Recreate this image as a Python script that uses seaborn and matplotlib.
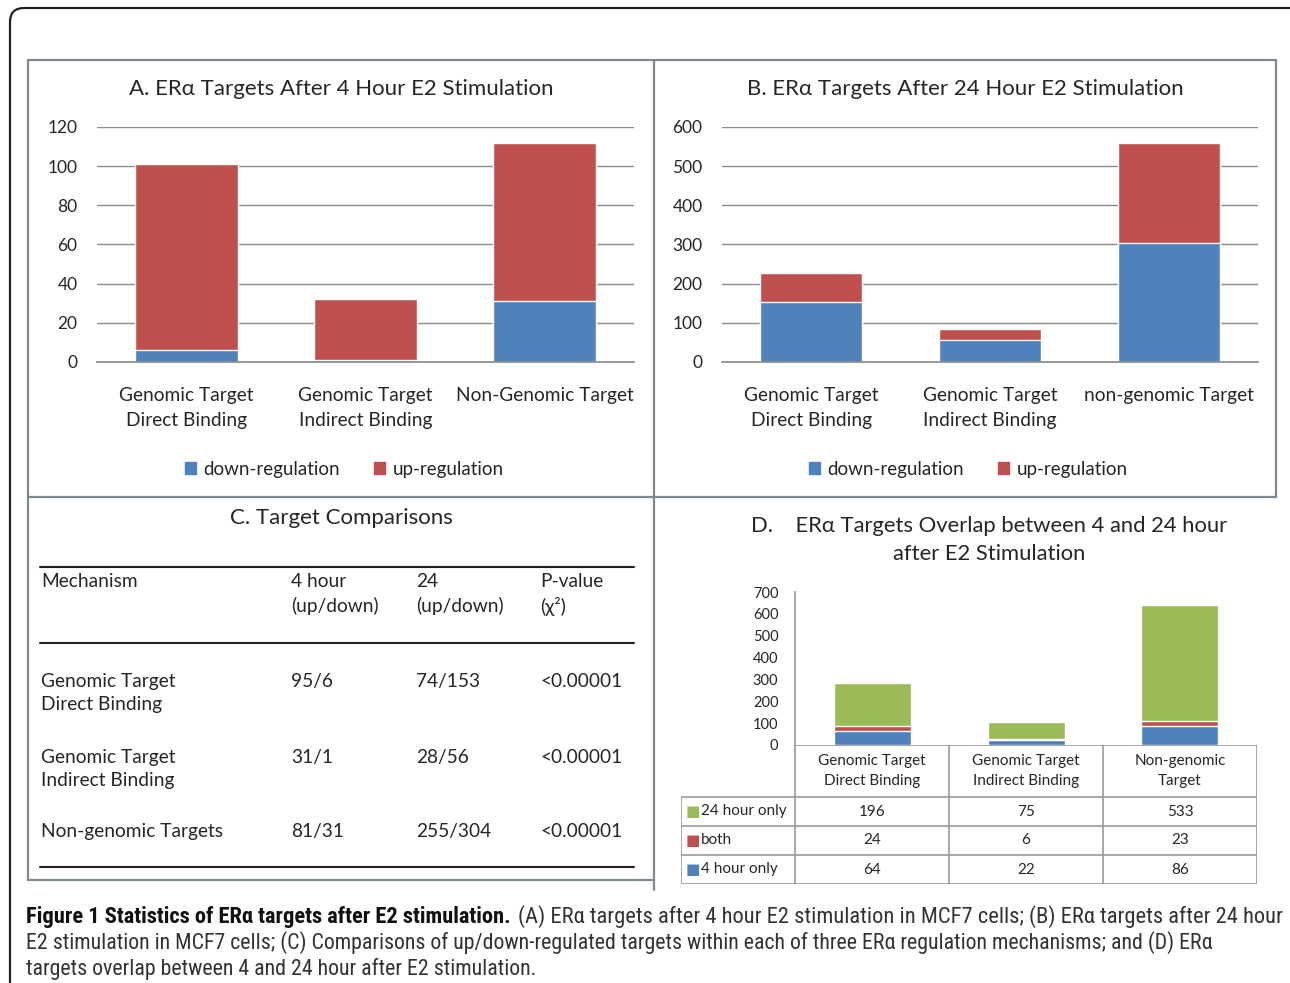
import numpy as np
import pandas as pd
import matplotlib.pyplot as plt
import seaborn as sns
from matplotlib import font_manager
from matplotlib.patches import FancyBboxPatch, Patch

# ---- data ----
cats_a = ["Genomic Target\nDirect Binding", "Genomic Target\nIndirect Binding", "Non-Genomic Target"]
cats_b = ["Genomic Target\nDirect Binding", "Genomic Target\nIndirect Binding", "non-genomic Target"]
cats_d = ["Genomic Target\nDirect Binding", "Genomic Target\nIndirect Binding", "Non-genomic\nTarget"]
down_4h = [6, 1, 31]
up_4h = [95, 31, 81]
down_24h = [153, 56, 304]
up_24h = [74, 28, 255]
mech_c = ["Genomic Target\nDirect Binding", "Genomic Target\nIndirect Binding", "Non-genomic Targets"]
pvals_c = ["<0.00001", "<0.00001", "<0.00001"]
only_4h = [64, 22, 86]
both = [24, 6, 23]
only_24h = [196, 75, 533]

BLUE, RED, GREEN = "#4F81BD", "#C0504D", "#9BBB59"
GRID = "#8c8c8c"
TXT = "#262626"

sns.set_theme(style="white")
plt.rcParams["font.family"] = ["Lato", "DejaVu Sans"]

# caption font: a condensed face if one is installed
fonts = font_manager.fontManager.ttflist
names = {f.name for f in fonts}
cap_kw = dict(family=["DejaVu Sans"])
for nm in ["Liberation Sans Narrow", "Roboto Condensed", "Open Sans Condensed", "DejaVu Sans Condensed"]:
    if nm in names:
        cap_kw = dict(family=[nm, "DejaVu Sans"])
        break
else:
    if any(f.name == "DejaVu Sans" and f.stretch == "condensed" for f in fonts):
        cap_kw = dict(family=["DejaVu Sans"], fontstretch="condensed")

W, H = 1290, 983
fig = plt.figure(figsize=(12.9, 9.83), dpi=100)


def rect(l, t, r, b):
    return [l / W, 1 - b / H, (r - l) / W, (b - t) / H]


# background axes in pixel coordinates for frames, panel C and caption
bg = fig.add_axes([0, 0, 1, 1], zorder=0)
bg.set_xlim(0, W)
bg.set_ylim(H, 0)
bg.axis("off")
bg.add_patch(FancyBboxPatch((10, 8), 1320, 1020, boxstyle="round,pad=0,rounding_size=14",
                            fc="none", ec="#222222", lw=1.6))
frame = dict(color="#7f8a90", lw=1.6)
bg.plot([28, 1276], [60, 60], **frame)
bg.plot([28, 1276], [497, 497], **frame)
bg.plot([28, 28], [60, 880], **frame)
bg.plot([28, 654], [880, 880], **frame)
bg.plot([654, 654], [60, 890], **frame)
bg.plot([1276, 1276], [60, 497], **frame)

TFS = 16
LFS = 13.8


def stacked_panel(box, cats, down, up, ymax, step, title, tx, legx):
    ax = fig.add_axes(rect(*box))
    df = pd.DataFrame({"cat": cats, "down": down, "up": up})
    df["total"] = df["down"] + df["up"]
    sns.barplot(data=df, x="cat", y="total", color=RED, width=0.57, saturation=1, ax=ax)
    sns.barplot(data=df, x="cat", y="down", color=BLUE, width=0.57, saturation=1, ax=ax)
    ax.set_ylim(0, ymax)
    ax.set_xlim(-0.5, 2.5)
    ax.set_yticks(np.arange(0, ymax + 1, step))
    ax.yaxis.grid(True, color=GRID, lw=1)
    ax.set_axisbelow(True)
    sns.despine(ax=ax, left=True)
    ax.spines["bottom"].set_color(GRID)
    ax.set_xlabel("")
    ax.set_ylabel("")
    ax.tick_params(axis="y", length=0, pad=14, labelsize=12.5, labelcolor=TXT)
    ax.tick_params(axis="x", length=0, pad=18, labelsize=LFS, labelcolor=TXT)
    for lab in ax.get_xticklabels():
        lab.set_linespacing(1.55)
    bg.text(tx, 89, title, ha="center", va="center", fontsize=TFS, color=TXT)
    handles = [Patch(color=BLUE), Patch(color=RED)]
    bg.legend(handles, ["down-regulation", "up-regulation"], loc="center",
              bbox_to_anchor=(legx, 469), bbox_transform=bg.transData, ncol=2, frameon=False,
              handlelength=0.6, handleheight=0.6, handletextpad=0.4, columnspacing=1.8,
              fontsize=13.5, labelcolor=TXT)
    return ax


ax_a = stacked_panel((97, 127, 634, 362), cats_a, down_4h, up_4h, 120, 20,
                     "A. ERα Targets After 4 Hour E2 Stimulation", 341, 344)
leg_a = bg.get_legend()
bg.add_artist(leg_a)
ax_b = stacked_panel((722, 127, 1258, 362), cats_b, down_24h, up_24h, 600, 100,
                     "B. ERα Targets After 24 Hour E2 Stimulation", 965, 968)

# ---- panel C: table ----
bg.text(341, 518, "C. Target Comparisons", ha="center", va="center", fontsize=TFS, color=TXT)
rule = dict(color="#222222", lw=1.5)
bg.plot([40, 634], [567, 567], **rule)
bg.plot([40, 634], [643, 643], **rule)
bg.plot([40, 634], [867, 867], **rule)
cfs = 13.8
col_x = [41, 291, 416, 540]
heads = ["Mechanism", "4 hour\n(up/down)", "24\n(up/down)", "P-value\n(χ²)"]
for x, h in zip(col_x, heads):
    bg.text(x, 573, h, ha="left", va="top", fontsize=cfs, color=TXT, linespacing=1.45)
row_y = [673, 749, 823]
for i, y in enumerate(row_y):
    vals = [mech_c[i], f"{up_4h[i]}/{down_4h[i]}", f"{up_24h[i]}/{down_24h[i]}", pvals_c[i]]
    for x, v in zip(col_x, vals):
        bg.text(x, y, v, ha="left", va="top", fontsize=cfs, color=TXT, linespacing=1.45)

# ---- panel D: stacked bars with data table ----
bg.text(989, 540, "D.    ERα Targets Overlap between 4 and 24 hour\nafter E2 Stimulation",
        ha="center", va="center", fontsize=15.8, color=TXT, linespacing=1.55)
ax_d = fig.add_axes(rect(795, 592, 1257, 745))
df_d = pd.DataFrame({"cat": cats_d, "h4": only_4h, "both": both, "h24": only_24h})
df_d["mid"] = df_d["h4"] + df_d["both"]
df_d["total"] = df_d["mid"] + df_d["h24"]
sns.barplot(data=df_d, x="cat", y="total", color=GREEN, width=0.5, saturation=1, ax=ax_d)
sns.barplot(data=df_d, x="cat", y="mid", color=RED, width=0.5, saturation=1, ax=ax_d)
sns.barplot(data=df_d, x="cat", y="h4", color=BLUE, width=0.5, saturation=1, ax=ax_d)
ax_d.set_ylim(0, 700)
ax_d.set_xlim(-0.5, 2.5)
ax_d.set_yticks(np.arange(0, 701, 100))
ax_d.set_xticks([])
ax_d.set_xlabel("")
ax_d.set_ylabel("")
sns.despine(ax=ax_d)
ax_d.spines["left"].set_color("#9a9a9a")
ax_d.spines["bottom"].set_visible(False)
ax_d.tick_params(axis="y", length=0, pad=12, labelsize=10.5, labelcolor=TXT)

tb = fig.add_axes(rect(681, 745, 1257, 884))
x0 = -0.5 - 114 / 154
tb.set_xlim(x0, 2.5)
tb.set_ylim(139, 0)
tb.axis("off")
lc = dict(color="#9a9a9a", lw=1.2)
tb.hlines(0, -0.5, 2.5, **lc)
tb.hlines([52, 81, 110, 139], x0, 2.5, **lc)
tb.vlines([-0.5, 0.5, 1.5, 2.5], 0, 139, **lc)
tb.vlines(x0, 52, 139, **lc)
for i, c in enumerate(cats_d):
    tb.text(i, 26, c, ha="center", va="center", fontsize=11, color=TXT, linespacing=1.5)
rows = [("24 hour only", only_24h, GREEN), ("both", both, RED), ("4 hour only", only_4h, BLUE)]
for r, (lab, vals, col) in enumerate(rows):
    yc = 66.5 + 29 * r
    tb.text(x0 + 5 / 154, yc, "■", ha="left", va="center", fontsize=11, color=col,
            family=["DejaVu Sans"])
    tb.text(x0 + 20 / 154, yc, lab, ha="left", va="center", fontsize=11, color=TXT)
    for i, v in enumerate(vals):
        tb.text(i, yc, str(v), ha="center", va="center", fontsize=11, color=TXT)

# ---- caption ----
cap1 = "(A) ERα targets after 4 hour E2 stimulation in MCF7 cells; (B) ERα targets after 24 hour"
cap2 = ("E2 stimulation in MCF7 cells; (C) Comparisons of up/down-regulated targets within each of three "
        "ERα regulation mechanisms; and (D) ERα")
cap3 = "targets overlap between 4 and 24 hour after E2 stimulation."
probe = bg.text(26, 943, cap2, ha="left", va="center", fontsize=14, color="#333333", **cap_kw)
fig.canvas.draw()
w2 = probe.get_window_extent().width
cfs2 = 14 * 1198 / w2
probe.set_fontsize(cfs2)
bg.text(26, 969, cap3, ha="left", va="center", fontsize=cfs2, color="#333333", **cap_kw)

# first line: bold lead-in + plain text, scaled together to span 26..1278
t1 = bg.text(26, 917, "Figure 1 Statistics of ERα targets after E2 stimulation.", ha="left",
             va="center", fontsize=cfs2, fontweight="bold", color="#111111", **cap_kw)
t1b = bg.text(0, 917, cap1, ha="left", va="center", fontsize=cfs2, color="#333333", **cap_kw)
fig.canvas.draw()
wa = t1.get_window_extent().width
wb = t1b.get_window_extent().width
k = (1278 - 26 - 7) / (wa + wb)
t1.set_fontsize(cfs2 * k)
t1b.set_fontsize(cfs2 * k)
fig.canvas.draw()
t1b.set_x(t1.get_window_extent().x1 + 7)

fig.savefig("out.png", dpi=100, facecolor="white")
